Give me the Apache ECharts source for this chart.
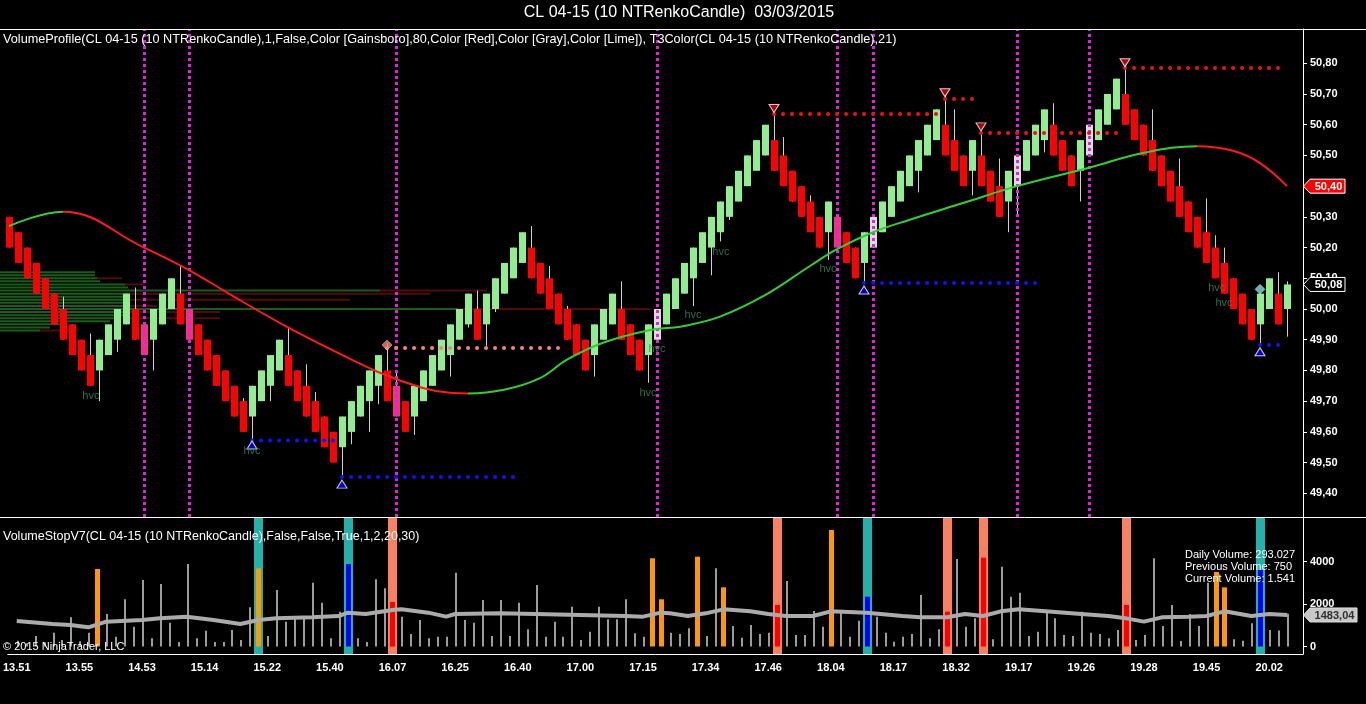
<!DOCTYPE html>
<html><head><meta charset="utf-8">
<script src="https://cdn.jsdelivr.net/npm/echarts@6/dist/echarts.min.js"></script>
<style>html,body{margin:0;padding:0;background:#000;}#c{width:1366px;height:704px;}</style>
</head><body><div id="c"></div>
<script>
// ---------- data ----------
const timeLabels = ['13.51','13.55','14.53','15.14','15.22','15.40','16.07','16.25','16.40','17.00','17.15','17.34','17.46','18.04','18.17','18.32','19.17','19.26','19.28','19.45','20.02'];
const labelIdx = [0,7,14,21,28,35,42,49,56,63,70,77,84,91,98,105,112,119,126,133,140];
const priceTicks = [49.4,49.5,49.6,49.7,49.8,49.9,50.0,50.1,50.2,50.3,50.4,50.5,50.6,50.7,50.8];
const volumeTicks = [0,2000,4000];

const opens = [50.30,50.25,50.20,50.15,50.10,50.05,50.00,49.95,49.90,49.85,
 49.80,49.85,49.90,49.95,50.00,49.95,49.90,49.95,50.00,50.05,
 50.00,49.95,49.90,49.85,49.80,49.75,49.70,49.65,49.70,49.75,
 49.80,49.85,49.80,49.75,49.70,49.65,49.60,49.55,49.60,49.65,
 49.70,49.75,49.80,49.75,49.70,49.65,49.70,49.75,49.80,49.85,
 49.90,49.95,50.00,49.95,50.00,50.05,50.10,50.15,50.20,50.15,
 50.10,50.05,50.00,49.95,49.90,49.85,49.90,49.95,50.00,49.95,
 49.90,49.85,49.90,49.95,50.00,50.05,50.10,50.15,50.20,50.25,
 50.30,50.35,50.40,50.45,50.50,50.55,50.50,50.45,50.40,50.35,
 50.30,50.25,50.30,50.25,50.20,50.15,50.20,50.25,50.30,50.35,
 50.40,50.45,50.50,50.55,50.60,50.55,50.50,50.45,50.50,50.45,
 50.40,50.35,50.40,50.45,50.50,50.55,50.60,50.55,50.50,50.45,
 50.50,50.55,50.60,50.65,50.70,50.65,50.60,50.55,50.50,50.45,
 50.40,50.35,50.30,50.25,50.20,50.15,50.10,50.05,50.00,49.95,
 50.00,50.05,50.00];
const closes = [50.20,50.15,50.10,50.05,50.00,49.95,49.90,49.85,49.80,49.75,
 49.90,49.95,50.00,50.05,49.90,49.85,50.00,50.05,50.10,49.95,
 49.90,49.85,49.80,49.75,49.70,49.65,49.60,49.75,49.80,49.85,
 49.90,49.75,49.70,49.65,49.60,49.55,49.50,49.65,49.70,49.75,
 49.80,49.85,49.70,49.65,49.60,49.75,49.80,49.85,49.90,49.95,
 50.00,50.05,49.90,50.05,50.10,50.15,50.20,50.25,50.10,50.05,
 50.00,49.95,49.90,49.85,49.80,49.95,50.00,50.05,49.90,49.85,
 49.80,49.95,50.00,50.05,50.10,50.15,50.20,50.25,50.30,50.35,
 50.40,50.45,50.50,50.55,50.60,50.45,50.40,50.35,50.30,50.25,
 50.20,50.35,50.20,50.15,50.10,50.25,50.30,50.35,50.40,50.45,
 50.50,50.55,50.60,50.65,50.50,50.45,50.40,50.55,50.40,50.35,
 50.30,50.45,50.50,50.55,50.60,50.65,50.50,50.45,50.40,50.55,
 50.60,50.65,50.70,50.75,50.60,50.55,50.50,50.45,50.40,50.35,
 50.30,50.25,50.20,50.15,50.10,50.05,50.00,49.95,49.90,50.05,
 50.10,49.95,50.08];
const highs = [50.30,50.25,50.20,50.15,50.10,50.05,50.04,49.95,49.90,49.92,
 49.90,49.95,50.00,50.05,50.07,49.95,50.00,50.05,50.10,50.14,
 50.00,49.95,49.90,49.85,49.80,49.75,49.71,49.75,49.80,49.85,
 49.90,49.94,49.80,49.82,49.73,49.65,49.60,49.65,49.70,49.75,
 49.80,49.85,49.89,49.80,49.70,49.75,49.80,49.85,49.90,49.95,
 50.00,50.05,50.06,50.05,50.10,50.15,50.20,50.25,50.27,50.15,
 50.14,50.05,50.01,49.95,49.90,49.95,50.00,50.05,50.09,49.95,
 49.90,49.95,50.00,50.05,50.10,50.15,50.20,50.25,50.30,50.35,
 50.40,50.45,50.50,50.55,50.60,50.64,50.56,50.45,50.40,50.37,
 50.30,50.35,50.30,50.25,50.20,50.25,50.30,50.35,50.40,50.45,
 50.50,50.55,50.60,50.65,50.70,50.65,50.50,50.55,50.58,50.45,
 50.49,50.45,50.50,50.55,50.60,50.65,50.67,50.55,50.50,50.55,
 50.60,50.65,50.70,50.75,50.80,50.65,50.60,50.65,50.50,50.45,
 50.49,50.35,50.30,50.36,50.24,50.20,50.10,50.05,50.00,50.05,
 50.10,50.12,50.09];
const lows = [50.20,50.15,50.10,50.05,50.00,49.95,49.90,49.85,49.80,49.75,
 49.70,49.85,49.86,49.95,49.90,49.85,49.80,49.95,50.00,49.95,
 49.90,49.85,49.80,49.75,49.70,49.65,49.60,49.57,49.70,49.70,
 49.80,49.75,49.70,49.65,49.60,49.55,49.50,49.45,49.56,49.65,
 49.60,49.69,49.70,49.65,49.60,49.59,49.70,49.75,49.80,49.78,
 49.90,49.94,49.90,49.88,49.99,50.05,50.10,50.15,50.10,50.05,
 50.00,49.95,49.90,49.85,49.80,49.78,49.90,49.95,49.90,49.85,
 49.80,49.76,49.90,49.95,50.00,50.05,50.01,50.15,50.11,50.22,
 50.29,50.35,50.40,50.45,50.50,50.45,50.40,50.35,50.30,50.25,
 50.20,50.16,50.20,50.15,50.10,50.085,50.20,50.25,50.30,50.35,
 50.40,50.38,50.50,50.55,50.50,50.45,50.40,50.37,50.40,50.35,
 50.30,50.25,50.30,50.45,50.50,50.51,50.50,50.45,50.40,50.35,
 50.50,50.55,50.60,50.65,50.60,50.55,50.50,50.45,50.40,50.35,
 50.30,50.25,50.20,50.15,50.10,50.05,50.00,49.95,49.90,49.88,
 50.00,49.95,49.91];
const gainsboroBars = [72,96,112,120];
const pinkBars = [15,20,43,92];
const sessionLines = [15,20,43,72,92,96,112,120];

// T3 average, read points [bar index, price]
const t3Points = [[0,50.27],[6,50.317],[15,50.20],[20,50.127],[25,50.04],[31,49.94],[35,49.88],[41,49.795],[46,49.743],[49,49.727],[51,49.725],[55,49.737],[59,49.775],[62,49.835],[66,49.89],[71,49.93],[75,49.945],[79,49.975],[84,50.045],[89,50.14],[92,50.195],[96,50.25],[100,50.29],[106,50.345],[112,50.40],[120,50.46],[126,50.508],[132,50.53],[136,50.515],[139,50.475],[142,50.40]];
const t3Turns = [6,51,132];

// horizontal dotted levels
const blueStart = [27,37,95,139], blueEnd = [36,56,114,141], blueLevel = [49.572,49.453,50.085,49.883];
const redStart = [85,104,108,124], redEnd = [103,107,123,141], redLevel = [50.635,50.684,50.573,50.785];
const coralStart = [42], coralEnd = [61], coralLevel = [49.873];

// markers
const upTriX = [27,37,95,139], upTriY = [49.557,49.43,50.062,49.861];
const dnTriX = [85,104,108,124], dnTriY = [50.653,50.704,50.593,50.802];
const diamondX = [42,139], diamondY = [49.883,50.064];
const hvcX = [9.1,27,71,72,76,79.1,91,134.2,135], hvcY = [49.717,49.538,49.727,49.870,49.981,50.186,50.131,50.069,50.020];

// volume profile rows: price, up volume, down volume
const profilePrice = [50.12,50.11,50.10,50.09,50.08,50.07,50.06,50.05,50.04,50.03,50.02,50.01,50.00,49.99,49.98,49.97,49.96,49.95,49.94,49.93];
const profileUp =    [95,95,97,100,125,128,380,130,128,130,125,127,457,130,128,120,110,60,50,40];
const profileDown =  [0,0,25,0,20,0,107,300,0,220,0,30,193,90,0,100,0,0,0,30];

// volume panel
const volumes = [274,150,494,200,650,306,1373,250,650,3647,
 1529,461,2221,932,3129,384,2941,1120,212,3882,
 384,745,212,212,776,300,1845,3679,494,2659,
 1167,1327,1327,3003,2061,384,1638,3882,384,212,
 3160,2737,2094,1404,588,1247,384,461,461,3475,
 1247,1120,2188,494,2188,494,2061,808,2894,461,
 1167,461,1874,306,698,1874,1280,1280,2221,620,
 461,4150,2221,650,588,855,4227,494,3679,2784,
 965,416,1012,588,650,1953,3082,541,541,1670,
 932,5482,1591,461,1214,2344,1404,650,228,461,
 588,2424,384,808,1638,4118,932,1327,4180,337,
 3757,2344,2532,494,698,1717,1327,541,494,1638,
 650,588,384,776,1953,306,541,4150,965,1953,
 259,1529,965,3003,3506,2784,337,274,1090,3600,
 776,750,1541];
const orangeBars = [9,27,71,72,76,79,91,134,135];
const redBars = [42,85,104,108,124];
const blueBars = [37,95,139];
const cyanMarks = [27,37,95,139];
const salmonMarks = [42,85,104,108,124];
const volumeAvg = [[0,1200],[4,1059],[6,1012],[8,902],[10,1169],[14,1247],[16,1325],[19,1404],[22,1247],[25,1059],[27,1247],[29,1325],[33,1373],[36,1435],[37,1592],[39,1529],[42,1718],[43,1749],[46,1592],[48,1404],[49,1529],[54,1561],[58,1529],[63,1482],[68,1435],[70,1404],[72,1592],[73,1561],[75,1435],[77,1561],[79,1749],[82,1655],[84,1529],[86,1435],[89,1435],[91,1655],[95,1592],[99,1435],[101,1373],[104,1373],[106,1529],[108,1435],[110,1655],[112,1749],[115,1655],[119,1529],[122,1435],[124,1325],[126,1169],[128,1373],[131,1404],[133,1435],[135,1655],[138,1435],[140,1529],[142,1483]];
const lastAvg = 1483.04;
const lastPrice = 50.08;
const lastT3 = 50.40;

// ---------- chart ----------
const FONT = '"Liberation Sans", Arial, sans-serif';
const XMIN = -1, XMAX = 1303/9 - 1;
const chart = echarts.init(document.getElementById('c'), null, {renderer:'canvas'});

const candleColor = ['#90EE90','#FF0000','#DCDCDC','#F8307A'];
const candleData = opens.map((o,i)=>{
  let k = closes[i] >= o ? 0 : 1;
  if (gainsboroBars.includes(i)) k = 2;
  if (pinkBars.includes(i)) k = 3;
  return [i, o, closes[i], lows[i], highs[i], k];
});

function renderCandle(params, api){
  const i=api.value(0), o=api.value(1), c=api.value(2), l=api.value(3), h=api.value(4), k=api.value(5);
  const pO=api.coord([i,o]), pC=api.coord([i,c]), pL=api.coord([i,l]), pH=api.coord([i,h]);
  const x=Math.round(pO[0]);
  const top=Math.min(pO[1],pC[1]), bot=Math.max(pO[1],pC[1]);
  return {type:'group', children:[
    {type:'line', shape:{x1:x+0.5,y1:pH[1],x2:x+0.5,y2:pL[1]}, style:{stroke:'#d0d0d0',lineWidth:1}},
    {type:'rect', shape:{x:x-3,y:top,width:7,height:bot-top}, style:{fill:candleColor[k]}}
  ]};
}

function renderProfile(params, api){
  const p=api.value(0), u=api.value(1), d=api.value(2);
  const a=api.coord([0,p]), b=api.coord([u,p]), c=api.coord([u+d,p]);
  const ch=[{type:'rect', shape:{x:a[0],y:a[1]-1,width:b[0]-a[0],height:2}, style:{fill:'#1a5c1a'}}];
  if (d>0) ch.push({type:'rect', shape:{x:b[0],y:b[1]-1,width:c[0]-b[0],height:2}, style:{fill:'#520b0b'}});
  return {type:'group', children:ch};
}

function renderMarkBg(params, api){
  const i=api.value(0), k=api.value(1);
  const x=Math.round(api.coord([i,0])[0]);
  const cs=params.coordSys;
  return {type:'rect', shape:{x:x-4,y:cs.y,width:9,height:cs.height}, style:{fill: k===0 ? '#22B2AA' : '#FA8060'}};
}

const volColor = ['#9c9c9c','#FF9900','#FF0000','#0000FF'];
const volData = volumes.map((v,i)=>{
  let k=0;
  if (orangeBars.includes(i)) k=1;
  if (redBars.includes(i)) k=2;
  if (blueBars.includes(i)) k=3;
  return [i,v,k];
});
function renderVol(params, api){
  const i=api.value(0), v=api.value(1), k=api.value(2);
  const t=api.coord([i,v]), b=api.coord([i,0]);
  const x=Math.round(t[0]);
  const w = k===0 ? 2 : 5;
  const x0 = k===0 ? x : x-2;
  return {type:'rect', shape:{x:x0,y:t[1],width:w,height:b[1]-t[1]}, style:{fill:volColor[k]}};
}

const markBgData = cyanMarks.map(i=>[i,0]).concat(salmonMarks.map(i=>[i,1]));

function dottedSeries(starts, ends, levels, color){
  return starts.map((s,j)=>({
    type:'line', xAxisIndex:0, yAxisIndex:0, z:6, silent:true, symbol:'none',
    data:[[s,levels[j]],[ends[j],levels[j]]],
    lineStyle:{color:color, width:4, type:[0.1,8.9], cap:'round'}
  }));
}

const axisLabelStyle = {color:'#ffffff', fontSize:11, fontWeight:'bold', fontFamily:FONT};

const option = {
  backgroundColor:'#000000',
  animation:false,
  grid:[
    {left:0, top:29, width:1303, height:488},
    {left:0, top:518, width:1303, height:136}
  ],
  xAxis:[
    {gridIndex:0, type:'value', min:XMIN, max:XMAX, show:false},
    {gridIndex:0, type:'value', min:0, max:1303, show:false},
    {gridIndex:1, type:'value', min:XMIN, max:XMAX,
      axisLine:{show:true, onZero:false, lineStyle:{color:'#ffffff', width:1}},
      axisTick:{show:false}, splitLine:{show:false},
      axisLabel:Object.assign({customValues:labelIdx, margin:8,
        formatter:(v)=>{const j=labelIdx.indexOf(Math.round(v)); return j>=0?timeLabels[j]:'';}}, axisLabelStyle)}
  ],
  yAxis:[
    {gridIndex:0, type:'value', position:'right', min:49.3228, max:50.9117,
      axisLine:{show:true, onZero:false, lineStyle:{color:'#ffffff'}},
      axisTick:{show:true, length:4, customValues:priceTicks, lineStyle:{color:'#ffffff'}},
      splitLine:{show:false},
      axisLabel:Object.assign({customValues:priceTicks, margin:7,
        formatter:(v)=>v.toFixed(2).replace('.',',')}, axisLabelStyle)},
    {gridIndex:1, type:'value', position:'right', min:-353, max:6047,
      axisLine:{show:true, onZero:false, lineStyle:{color:'#ffffff'}},
      axisTick:{show:true, length:4, customValues:volumeTicks, lineStyle:{color:'#ffffff'}},
      splitLine:{show:false},
      axisLabel:Object.assign({customValues:volumeTicks, margin:7, formatter:(v)=>String(Math.round(v))}, axisLabelStyle)}
  ],
  visualMap:[{
    type:'piecewise', show:false, seriesIndex:2, dimension:0,
    pieces:[
      {lt:t3Turns[0], color:'#32CD32'},
      {gte:t3Turns[0], lt:t3Turns[1], color:'#FF1A1A'},
      {gte:t3Turns[1], lt:t3Turns[2], color:'#32CD32'},
      {gte:t3Turns[2], color:'#FF1A1A'}
    ]
  }],
  series:[
    {type:'custom', xAxisIndex:1, yAxisIndex:0, z:1, silent:true, renderItem:renderProfile,
      data:profilePrice.map((p,i)=>[p,profileUp[i],profileDown[i]]), clip:true},
    {type:'custom', xAxisIndex:0, yAxisIndex:0, z:3, silent:true, renderItem:renderCandle, data:candleData, clip:false,
      encode:{x:0,y:[1,2,3,4]}},
    {type:'line', xAxisIndex:0, yAxisIndex:0, z:5, silent:true, symbol:'none', smooth:0.4,
      data:t3Points, lineStyle:{width:2}},
    {type:'line', xAxisIndex:0, yAxisIndex:0, z:7, silent:true, symbol:'none', data:[],
      markLine:{silent:true, symbol:['none','none'], label:{show:false}, animation:false,
        lineStyle:{color:'#E61EE6', width:3, type:[3,3]},
        data:sessionLines.map(i=>({xAxis:i}))}},
    ...dottedSeries(blueStart, blueEnd, blueLevel, '#1010FF'),
    ...dottedSeries(redStart, redEnd, redLevel, '#EE1111'),
    ...dottedSeries(coralStart, coralEnd, coralLevel, '#F08080'),
    {type:'scatter', xAxisIndex:0, yAxisIndex:0, z:8, silent:true, symbol:'triangle', symbolSize:[10,8],
      data:upTriX.map((x,i)=>[x,upTriY[i]]), itemStyle:{color:'#0000FF', borderColor:'#ffffff', borderWidth:1}},
    {type:'scatter', xAxisIndex:0, yAxisIndex:0, z:8, silent:true, symbol:'triangle', symbolRotate:180, symbolSize:[10,8],
      data:dnTriX.map((x,i)=>[x,dnTriY[i]]), itemStyle:{color:'#E00000', borderColor:'#ffffff', borderWidth:1}},
    {type:'scatter', xAxisIndex:0, yAxisIndex:0, z:8, silent:true, symbol:'diamond', symbolSize:[10,10],
      data:[{value:[diamondX[0],diamondY[0]], itemStyle:{color:'#FA8072'}},{value:[diamondX[1],diamondY[1]], itemStyle:{color:'#7FE0E0'}}],
      itemStyle:{borderColor:'#ffffff', borderWidth:0.5}},
    {type:'scatter', xAxisIndex:0, yAxisIndex:0, z:8, silent:true, symbolSize:1, itemStyle:{color:'rgba(0,0,0,0)'},
      data:hvcX.map((x,i)=>[x,hvcY[i]]),
      label:{show:true, position:'inside', formatter:'hvc', color:'#3A8A5A', fontSize:11, fontFamily:FONT}},
    // volume panel
    {type:'custom', xAxisIndex:2, yAxisIndex:1, z:1, silent:true, renderItem:renderMarkBg, data:markBgData, clip:false},
    {type:'custom', xAxisIndex:2, yAxisIndex:1, z:2, silent:true, renderItem:renderVol, data:volData, clip:false},
    {type:'line', xAxisIndex:2, yAxisIndex:1, z:4, silent:true, symbol:'none', data:volumeAvg,
      lineStyle:{color:'#ABABAB', width:4}}
  ],
  graphic:[
    {type:'text', z:50, style:{text:'CL 04-15 (10 NTRenkoCandle)  03/03/2015', x:679, y:13, align:'center', verticalAlign:'middle', fill:'#ffffff', font:'16px '+FONT}},
    {type:'line', z:50, shape:{x1:0,y1:29.5,x2:1366,y2:29.5}, style:{stroke:'#ffffff', lineWidth:1}},
    {type:'line', z:50, shape:{x1:0,y1:517.5,x2:1366,y2:517.5}, style:{stroke:'#ffffff', lineWidth:1}},
    {type:'text', z:50, style:{text:'VolumeProfile(CL 04-15 (10 NTRenkoCandle),1,False,Color [Gainsboro],80,Color [Red],Color [Gray],Color [Lime]), T3Color(CL 04-15 (10 NTRenkoCandle),21)', x:3, y:39, verticalAlign:'middle', fill:'#ffffff', font:'12.7px '+FONT}},
    {type:'text', z:50, style:{text:'VolumeStopV7(CL 04-15 (10 NTRenkoCandle),False,False,True,1,2,20,30)', x:3, y:537, verticalAlign:'middle', fill:'#ffffff', font:'12.5px '+FONT}},
    {type:'text', z:50, style:{text:'Daily Volume: 293.027\nPrevious Volume: 750\nCurrent Volume: 1.541', x:1185, y:549, verticalAlign:'top', lineHeight:12, fill:'#ffffff', font:'11px '+FONT}},
    {type:'text', z:50, style:{text:'\u00A9 2015 NinjaTrader, LLC', x:3, y:647, verticalAlign:'middle', fill:'#ffffff', font:'11px '+FONT}}
  ]
};
chart.setOption(option);

function priceTag(y, text, fill, stroke, color, right){
  const xr = right;
  return [
    {type:'polygon', z:60, shape:{points:[[1303.5,y],[1310,y-7],[xr,y-7],[xr,y+7],[1310,y+7]]}, style:{fill:fill, stroke:stroke, lineWidth:1}},
    {type:'text', z:61, style:{text:text, x:(1310+xr)/2+1, y:y+0.5, align:'center', verticalAlign:'middle', fill:color, font:'bold 11px '+FONT}}
  ];
}
const yT3 = chart.convertToPixel({yAxisIndex:0}, lastT3);
const yLast = chart.convertToPixel({yAxisIndex:0}, lastPrice);
const yAvg = chart.convertToPixel({yAxisIndex:1}, lastAvg);
chart.setOption({graphic: option.graphic.concat(
  priceTag(yT3, lastT3.toFixed(2).replace('.',','), '#FF0000', '#ffffff', '#ffffff', 1345),
  priceTag(yLast, lastPrice.toFixed(2).replace('.',','), '#000000', '#ffffff', '#ffffff', 1345),
  priceTag(yAvg, lastAvg.toFixed(2).replace('.',','), '#C8C8C8', '#e0e0e0', '#303030', 1357)
)});
</script></body></html>
